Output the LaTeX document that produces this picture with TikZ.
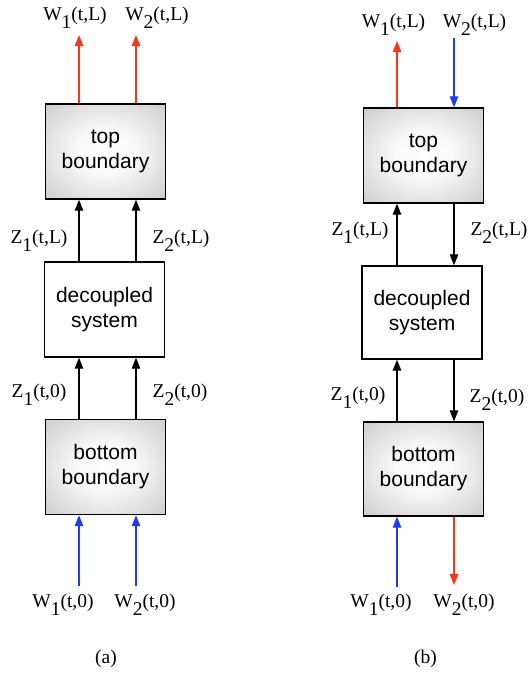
\documentclass[tikz,border=0pt]{standalone}
\usepackage{fontspec}
\setmainfont{Liberation Serif}
\newfontfamily\boxfont{Liberation Sans}
\usetikzlibrary{arrows.meta}
\definecolor{wred}{RGB}{255,52,22}
\definecolor{wblue}{RGB}{28,58,255}
\pgfdeclareradialshading{boxshade}{\pgfpoint{0bp}{0bp}}{color(0bp)=(white); color(12bp)=(white!95!gray); color(50bp)=(gray!60); color(71bp)=(gray!76)}
\newcommand{\lowidx}[1]{\raisebox{-0.42em}{#1}}
\tikzset{
  block/.style={draw, line width=1.4pt, rectangle, minimum width=120pt, minimum height=95pt,
    align=center, font=\boxfont\fontsize{21}{25}\selectfont, inner sep=0pt},
  bdry/.style={block, shading=boxshade},
  lbl/.style={font=\fontsize{19.5}{22}\selectfont, anchor=base, inner sep=0pt},
  flow/.style={line width=1.3pt, -{Triangle[length=11pt,width=8.5pt]}},
}
\begin{document}
\begin{tikzpicture}[x=1pt, y=-1pt]
    \useasboundingbox (0,0) rectangle (532,675);
    % (a) both boundaries pass data upward
    \node[bdry] (topA) at (105.5,151.5) {top\\boundary};
    \node[block] (decA) at (104.5,309.5) {decoupled\\system};
    \node[bdry] (botA) at (105.5,467) {bottom\\boundary};
    \node[lbl] (w1La) at (75,20.5) {W\lowidx{1}(t,L)};
    \node[lbl] (w2La) at (157,20.5) {W\lowidx{2}(t,L)};
    \node[lbl] (z1La) at (39,243.5) {Z\lowidx{1}(t,L)};
    \node[lbl] (z2La) at (181,243.5) {Z\lowidx{2}(t,L)};
    \node[lbl] (z10a) at (39,397) {Z\lowidx{1}(t,0)};
    \node[lbl] (z20a) at (180,397) {Z\lowidx{2}(t,0)};
    \node[lbl] (w10a) at (63,607) {W\lowidx{1}(t,0)};
    \node[lbl] (w20a) at (145,607) {W\lowidx{2}(t,0)};
    \node[lbl] (capA) at (106,663) {(a)};
    \coordinate (a1t) at (79,35);
    \coordinate (a2t) at (136,35);
    \coordinate (a1b) at (79,586);
    \coordinate (a2b) at (136,586);
    \draw[flow, wred] (topA.north -| a1t) -- (a1t);
    \draw[flow, wred] (topA.north -| a2t) -- (a2t);
    \draw[flow] (decA.north -| a1t) -- (topA.south -| a1t);
    \draw[flow] (decA.north -| a2t) -- (topA.south -| a2t);
    \draw[flow] (botA.north -| a1t) -- (decA.south -| a1t);
    \draw[flow] (botA.north -| a2t) -- (decA.south -| a2t);
    \draw[flow, wblue] (a1b) -- (botA.south -| a1b);
    \draw[flow, wblue] (a2b) -- (botA.south -| a2b);
    % (b) second field runs downward
    \node[bdry] (topB) at (423.5,155.5) {top\\boundary};
    \node[block, minimum height=93pt] (decB) at (422,312.5) {decoupled\\system};
    \node[bdry, minimum height=94pt] (botB) at (423.5,469) {bottom\\boundary};
    \node[lbl] (w1Lb) at (393.5,27) {W\lowidx{1}(t,L)};
    \node[lbl] (w2Lb) at (474.5,27) {W\lowidx{2}(t,L)};
    \node[lbl] (z1Lb) at (360,235.5) {Z\lowidx{1}(t,L)};
    \node[lbl] (z2Lb) at (499,235.5) {Z\lowidx{2}(t,L)};
    \node[lbl] (z10b) at (358,400) {Z\lowidx{1}(t,0)};
    \node[lbl] (z20b) at (497,402) {Z\lowidx{2}(t,0)};
    \node[lbl] (w10b) at (381,607) {W\lowidx{1}(t,0)};
    \node[lbl] (w20b) at (464,607) {W\lowidx{2}(t,0)};
    \node[lbl] (capB) at (425.5,663) {(b)};
    \coordinate (b1t) at (397,41);
    \coordinate (b2t) at (454,38);
    \coordinate (b1b) at (397,587);
    \coordinate (b2b) at (454,585);
    \draw[flow, wred] (topB.north -| b1t) -- (b1t);
    \draw[flow, wblue] (b2t) -- (topB.north -| b2t);
    \draw[flow] (decB.north -| b1t) -- (topB.south -| b1t);
    \draw[flow] (topB.south -| b2t) -- (decB.north -| b2t);
    \draw[flow] (botB.north -| b1t) -- (decB.south -| b1t);
    \draw[flow] (decB.south -| b2t) -- (botB.north -| b2t);
    \draw[flow, wblue] (b1b) -- (botB.south -| b1b);
    \draw[flow, wred] (botB.south -| b2b) -- (b2b);
\end{tikzpicture}
\end{document}
